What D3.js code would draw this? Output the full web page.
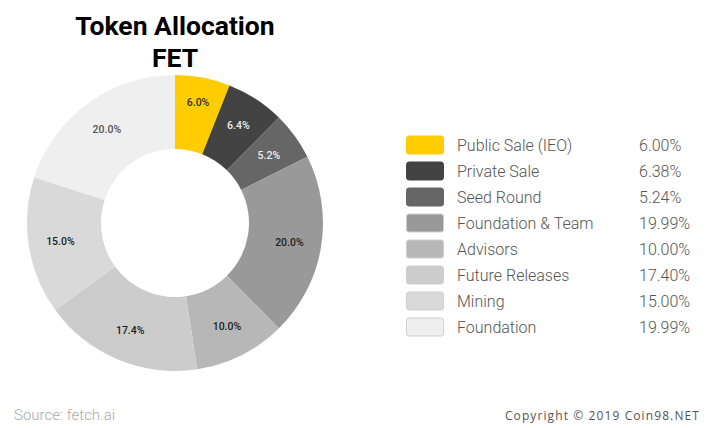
<!DOCTYPE html>
<html><head><meta charset="utf-8">
<script src="https://cdn.jsdelivr.net/npm/d3@7/dist/d3.min.js"></script>
<style>html,body{margin:0;padding:0;background:#fff}svg{display:block}text{font-family:Roboto,sans-serif}</style>
</head><body><svg id="c" width="714" height="428"></svg>
<script>
const categories=["Public Sale (IEO)","Private Sale","Seed Round","Foundation & Team","Advisors","Future Releases","Mining","Foundation"];
const values=[6.00,6.38,5.24,19.99,10.00,17.40,15.00,19.99];
const colors=["#ffcc00","#434343","#666666","#999999","#b7b7b7","#cccccc","#d9d9d9","#efefef"];
const sliceLabels=["6.0%","6.4%","5.2%","20.0%","10.0%","17.4%","15.0%","20.0%"];
const valueLabels=["6.00%","6.38%","5.24%","19.99%","10.00%","17.40%","15.00%","19.99%"];
const labelColors=["#333333","#eeeeee","#eeeeee","#222222","#222222","#222222","#222222","#555555"];
const titleLines=["Token Allocation","FET"];

const svg=d3.select("#c");
svg.selectAll("text.t").data(titleLines).join("text").attr("class","t")
  .attr("x",175).attr("y",(d,i)=>35+i*32).attr("text-anchor","middle")
  .attr("font-size",26.5).attr("font-weight",700).attr("fill","#000").text(d=>d);

const pie=d3.pie().sort(null).value(d=>d)(values);
const arc=d3.arc().innerRadius(74).outerRadius(148);
const labelPos=d=>{const r=d.index===0?123:116;return d3.arc().innerRadius(r).outerRadius(r).centroid(d);};
const g=svg.append("g").attr("transform","translate(175,223)");
g.selectAll("path").data(pie).join("path").attr("d",arc).attr("fill",(d,i)=>colors[i]);
g.selectAll("text").data(pie).join("text")
  .attr("transform",d=>`translate(${labelPos(d)})`).attr("dy","0.35em")
  .attr("text-anchor","middle").attr("font-size",10.5).attr("font-weight",500)
  .attr("fill",(d,i)=>labelColors[i]).text((d,i)=>sliceLabels[i]);

const y=d3.scalePoint().domain(categories).range([145,327]);
const rows=svg.selectAll("g.r").data(categories).join("g").attr("class","r")
  .attr("transform",d=>`translate(0,${y(d)})`);
rows.append("rect").attr("x",406.5).attr("y",-9).attr("width",37).attr("height",18).attr("rx",2.5)
  .attr("fill",(d,i)=>colors[i]).attr("stroke",(d,i)=>i>2?"#cfcfcf":colors[i]).attr("stroke-width",1);
rows.append("text").attr("x",457).attr("dy","0.35em").attr("font-size",16).attr("font-weight",300)
  .attr("fill","#555").text(d=>d);
rows.append("text").attr("x",639).attr("dy","0.35em").attr("font-size",16).attr("font-weight",300)
  .attr("fill","#555").text((d,i)=>valueLabels[i]);

svg.append("text").attr("x",14).attr("y",420).attr("font-size",15).attr("font-weight",300).attr("fill","#aaa").text("Source: fetch.ai");
svg.append("text").attr("x",700).attr("y",420).attr("text-anchor","end").attr("font-size",12).attr("letter-spacing",1.1).style("font-family","'Open Sans'").attr("fill","#555").text("Copyright © 2019 Coin98.NET");
</script></body></html>
